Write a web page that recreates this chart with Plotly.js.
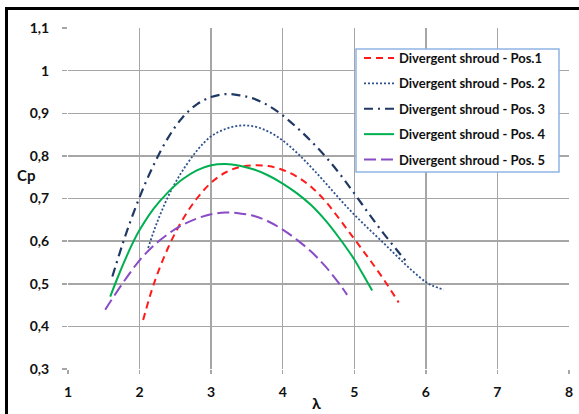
<!DOCTYPE html>
<html>
<head>
<meta charset="utf-8">
<script src="https://cdn.plot.ly/plotly-3.0.1.min.js"></script>
<style>
html,body{margin:0;padding:0;background:#fff;overflow:hidden;}
#wrap{position:relative;width:579px;height:414px;}
#chart{width:579px;height:414px;}
#frame{position:absolute;left:5px;top:7px;width:700px;height:600px;border-top:3px solid #000;border-left:3px solid #000;pointer-events:none;}
</style>
</head>
<body>
<div id="wrap"><div id="chart"></div><div id="frame"></div></div>
<script>
// Data
const seriesNames = ["Divergent shroud - Pos.1","Divergent shroud - Pos. 2","Divergent shroud - Pos. 3","Divergent shroud - Pos. 4","Divergent shroud - Pos. 5"];

const pos1X = [2.05,2.2,2.4,2.6,2.8,3.0,3.2,3.4,3.6,3.8,4.0,4.2,4.4,4.6,4.8,5.0,5.2,5.4,5.62];
const pos1Y = [0.415,0.50,0.585,0.65,0.70,0.737,0.761,0.774,0.778,0.776,0.767,0.751,0.727,0.693,0.65,0.605,0.56,0.513,0.456];

const pos2X = [2.12,2.24,2.4,2.5,2.6,2.8,3.0,3.2,3.4,3.6,3.8,4.0,4.2,4.4,4.6,4.8,5.0,5.2,5.4,5.6,5.8,6.0,6.1,6.25];
const pos2Y = [0.584,0.642,0.705,0.737,0.765,0.812,0.846,0.863,0.871,0.869,0.857,0.836,0.807,0.773,0.736,0.698,0.662,0.629,0.597,0.564,0.532,0.504,0.495,0.486];

const pos3X = [1.62,1.8,2.0,2.2,2.4,2.6,2.8,3.0,3.2,3.4,3.6,3.8,4.0,4.2,4.4,4.6,4.8,5.0,5.2,5.4,5.6,5.76];
const pos3Y = [0.517,0.612,0.703,0.78,0.843,0.89,0.921,0.938,0.945,0.942,0.934,0.918,0.895,0.866,0.834,0.798,0.757,0.712,0.665,0.62,0.578,0.545];

const pos4X = [1.59,1.7,1.8,1.9,2.0,2.2,2.4,2.6,2.8,3.0,3.2,3.4,3.6,3.8,4.0,4.2,4.4,4.6,4.8,5.0,5.1,5.25];
const pos4Y = [0.47,0.517,0.557,0.594,0.626,0.677,0.715,0.745,0.766,0.778,0.781,0.777,0.768,0.754,0.735,0.712,0.684,0.648,0.605,0.557,0.528,0.484];

const pos5X = [1.52,1.6,1.8,2.0,2.2,2.4,2.6,2.8,3.0,3.2,3.4,3.6,3.8,4.0,4.2,4.4,4.6,4.8,4.9];
const pos5Y = [0.439,0.46,0.51,0.555,0.59,0.617,0.638,0.653,0.663,0.667,0.665,0.659,0.646,0.627,0.603,0.575,0.54,0.498,0.474];

const xTicks = [1,2,3,4,5,6,7,8];
const yTicks = [0.3,0.4,0.5,0.6,0.7,0.8,0.9,1.0,1.1];
const yTickText = ["0,3","0,4","0,5","0,6","0,7","0,8","0,9","1","1,1"];

const FONT = "Lato, 'Open Sans', sans-serif";

const styles = [
  {color:"#ff1a1a", dash:"7px,5px", width:2},
  {color:"#2e528f", dash:"2px,2px", width:1.8},
  {color:"#1f3864", dash:"9px,5px,2px,5px", width:2.2},
  {color:"#00b050", dash:"solid", width:2},
  {color:"#8a4cc6", dash:"12px,5px", width:2}
];
const xs = [pos1X,pos2X,pos3X,pos4X,pos5X];
const ys = [pos1Y,pos2Y,pos3Y,pos4Y,pos5Y];

const data = seriesNames.map((n,i)=>({
  x: xs[i], y: ys[i], name: n, type:"scatter", mode:"lines",
  legendgroup: "g"+i,
  line:{color:styles[i].color, dash:styles[i].dash, width:styles[i].width, shape:"spline", smoothing:1}
}));

// pixel helpers for paper-referenced legend box
const PL = 68, PW = 501, PT = 28, PH = 341;
const px2x = p => (p - PL) / PW;
const px2y = p => (PT + PH - p) / PH;

const layout = {
  width:579, height:414,
  margin:{l:68, r:10, t:28, b:45, pad:0},
  paper_bgcolor:"#fff", plot_bgcolor:"#fff",
  showlegend:true,
  legend:{
    x:px2x(359), y:px2y(43), xanchor:"left", yanchor:"top",
    bgcolor:"rgba(0,0,0,0)", borderwidth:0,
    font:{family:FONT, size:13, color:"#111", weight:"bold"},
    traceorder:"grouped", tracegroupgap:5.5
  },
  shapes:[
    {type:"rect", xref:"paper", yref:"paper", layer:"above",
     x0:px2x(356), x1:px2x(559), y0:px2y(172), y1:px2y(49),
     fillcolor:"#fff", line:{color:"#8eb4e3", width:1.5}}
  ],
  xaxis:{
    range:[1,8], tickvals:xTicks, ticktext:xTicks.map(String),
    showgrid:true, gridcolor:"#a6a6a6", gridwidth:1.5,
    zeroline:false, showline:false,
    ticks:"outside", ticklen:4, tickcolor:"#a6a6a6", tickwidth:1.5,
    ticklabelstandoff:6,
    tickfont:{family:FONT, size:14, color:"#111", weight:"bold"},
    fixedrange:true
  },
  yaxis:{
    range:[0.3,1.1], tickvals:yTicks, ticktext:yTickText,
    showgrid:true, gridcolor:"#a6a6a6", gridwidth:1.5,
    zeroline:false, showline:false,
    ticks:"outside", ticklen:5, tickcolor:"#a6a6a6", tickwidth:1.5,
    ticklabelstandoff:10,
    tickfont:{family:FONT, size:14, color:"#111", weight:"bold"},
    fixedrange:true
  },
  annotations:[
    {text:"Cp", xref:"paper", yref:"paper", x:px2x(26), y:px2y(175), showarrow:false,
     xanchor:"center", yanchor:"middle", font:{family:FONT, size:15, color:"#111", weight:"bold"}},
    {text:"λ", xref:"paper", yref:"paper", x:px2x(316), y:px2y(403), showarrow:false,
     xanchor:"center", yanchor:"middle", font:{family:FONT, size:16, color:"#111", weight:"bold"}}
  ]
};

Plotly.newPlot("chart", data, layout, {displayModeBar:false, staticPlot:true});
</script>
</body>
</html>
